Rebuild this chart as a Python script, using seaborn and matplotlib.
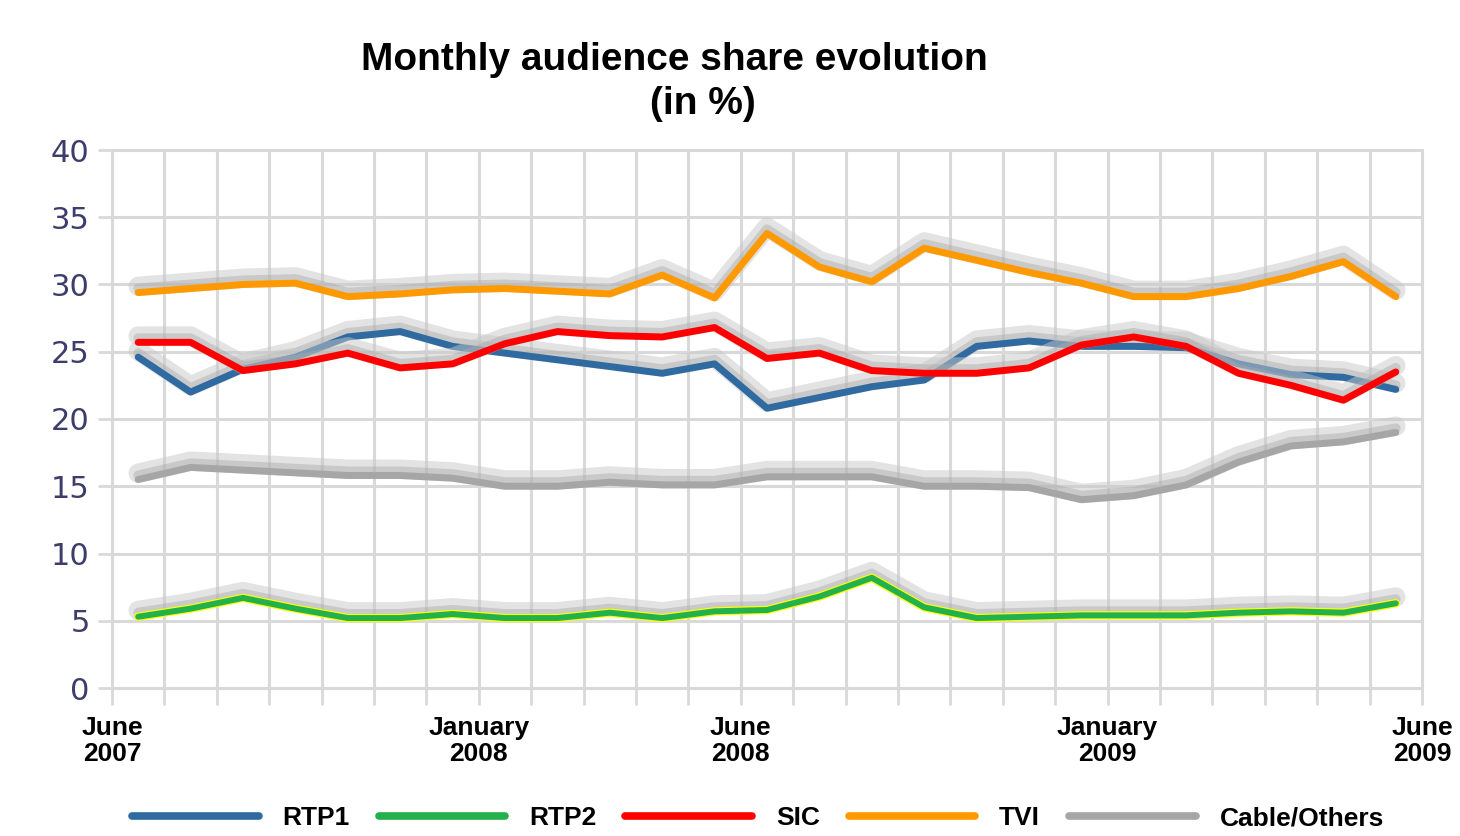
import numpy as np
import pandas as pd
import seaborn as sns
import matplotlib
matplotlib.use("Agg")
import matplotlib.pyplot as plt
import matplotlib.patheffects as pe
from matplotlib.lines import Line2D

# ---------------- data ----------------
months = ["Jun 2007", "Jul 2007", "Aug 2007", "Sep 2007", "Oct 2007", "Nov 2007",
          "Dec 2007", "Jan 2008", "Feb 2008", "Mar 2008", "Apr 2008", "May 2008",
          "Jun 2008", "Jul 2008", "Aug 2008", "Sep 2008", "Oct 2008", "Nov 2008",
          "Dec 2008", "Jan 2009", "Feb 2009", "Mar 2009", "Apr 2009", "May 2009",
          "Jun 2009"]
channels = ["RTP1", "RTP2", "SIC", "TVI", "Cable/Others"]
rtp1 = [24.6, 22.0, 23.7, 24.6, 26.1, 26.5, 25.4, 24.9, 24.4, 23.9, 23.4, 24.1,
        20.8, 21.6, 22.4, 22.9, 25.4, 25.8, 25.4, 25.4, 25.3, 24.1, 23.3, 23.1, 22.2]
rtp2 = [5.3, 5.9, 6.7, 5.9, 5.2, 5.2, 5.5, 5.2, 5.2, 5.6, 5.2, 5.7,
        5.8, 6.8, 8.2, 6.0, 5.2, 5.3, 5.4, 5.4, 5.4, 5.6, 5.7, 5.6, 6.3]
sic = [25.7, 25.7, 23.6, 24.1, 24.9, 23.8, 24.1, 25.6, 26.5, 26.2, 26.1, 26.8,
       24.5, 24.9, 23.6, 23.4, 23.4, 23.8, 25.5, 26.1, 25.4, 23.4, 22.5, 21.4, 23.5]
tvi = [29.4, 29.7, 30.0, 30.1, 29.1, 29.3, 29.6, 29.7, 29.5, 29.3, 30.7, 29.0,
       33.8, 31.3, 30.2, 32.7, 31.8, 30.9, 30.1, 29.1, 29.1, 29.7, 30.6, 31.7, 29.1]
cable = [15.5, 16.4, 16.2, 16.0, 15.8, 15.8, 15.6, 15.0, 15.0, 15.3, 15.1, 15.1,
         15.7, 15.7, 15.7, 15.0, 15.0, 14.9, 14.0, 14.3, 15.1, 16.8, 18.0, 18.3, 19.0]
x_tick_labels = {0: "June\n2007", 7: "January\n2008", 12: "June\n2008",
                 19: "January\n2009", 25: "June\n2009"}
colors = ["#2f6aa0", "#22b14c", "#ff0000", "#ff9900", "#a6a6a6"]

# ---------------- figure ----------------
sns.set_theme(style="white")
narrow = ["Liberation Sans Narrow", "Liberation Sans", "DejaVu Sans"]
plt.rcParams["font.family"] = narrow
plt.rcParams["text.color"] = "black"

fig = plt.figure(figsize=(14.6, 8.36), dpi=100)
fig.patch.set_facecolor("white")
ax = fig.add_axes([112 / 1460, 1 - 688 / 836, (1422 - 112) / 1460, (688 - 150) / 836])
ax.set_facecolor("white")

df = pd.DataFrame({"month": months, "RTP1": rtp1, "RTP2": rtp2, "SIC": sic,
                   "TVI": tvi, "Cable/Others": cable})
df["pos"] = np.arange(len(months)) + 0.5
long = df.melt(id_vars=["month", "pos"], value_vars=channels,
               var_name="channel", value_name="share")

draw_order = ["Cable/Others", "RTP2", "RTP1", "SIC", "TVI"]
pal = dict(zip(channels, colors))
sns.lineplot(data=long, x="pos", y="share", hue="channel", hue_order=draw_order,
             palette=pal, linewidth=5, legend=False, ax=ax, sort=False)

shadow = [pe.SimpleLineShadow(offset=(0, 4.5), shadow_color="#c8c8c8", alpha=0.5, linewidth=14),
          pe.SimpleLineShadow(offset=(0, 3), shadow_color="#aaaaaa", alpha=0.45, linewidth=7)]
for line, name in zip(ax.lines, draw_order):
    line.set_solid_joinstyle("round")
    if name == "RTP2":
        line.set_linewidth(4.3)
        line.set_path_effects(shadow + [pe.Stroke(linewidth=6, foreground="#ffff00"), pe.Normal()])
    else:
        line.set_path_effects(shadow + [pe.Normal()])

# axes styling
ax.set_xlim(0, 25)
ax.set_ylim(0, 40)
ax.set_xticks(range(26))
ax.set_xticklabels([x_tick_labels.get(i, "") for i in range(26)],
                   fontsize=19, fontweight="bold", family=narrow, linespacing=1.12,
                   color="black")
ax.set_yticks(range(0, 41, 5))
ax.set_yticklabels([str(v) for v in range(0, 41, 5)], fontsize=22,
                   family=["DejaVu Sans"], color="#3d3d6b")
ax.tick_params(axis="x", length=12, width=2, color="#d9d9d9", pad=8, bottom=True)
ax.tick_params(axis="y", length=10, width=2, color="#d9d9d9", pad=6, left=True)
ax.grid(True, color="#d9d9d9", linewidth=2.2)
ax.set_axisbelow(True)
for gl in ax.get_xgridlines() + ax.get_ygridlines():
    gl.set_clip_on(False)
for s in ax.spines.values():
    s.set_visible(False)
ax.set_xlabel("")
ax.set_ylabel("")

# title
fig.text(674 / 1460, 1 - 60 / 836, "Monthly audience share evolution", ha="center", va="center",
         fontsize=28, fontweight="bold", family=["Liberation Sans", "DejaVu Sans"], color="black")
fig.text(703 / 1460, 1 - 104 / 836, "(in %)", ha="center", va="center",
         fontsize=28, fontweight="bold", family=["Liberation Sans", "DejaVu Sans"], color="black")

# legend
handles = [Line2D([], [], color=pal[c], lw=5.5, solid_capstyle="round") for c in channels]
fig.legend(handles, channels, loc="center", bbox_to_anchor=(758 / 1460, 1 - 818 / 836),
           ncol=5, frameon=False, handlelength=4.8, handletextpad=0.9, columnspacing=1.1,
           prop=dict(family=narrow, weight="bold", size=19), labelcolor="black")

fig.savefig("out.png", dpi=100, facecolor="white")
